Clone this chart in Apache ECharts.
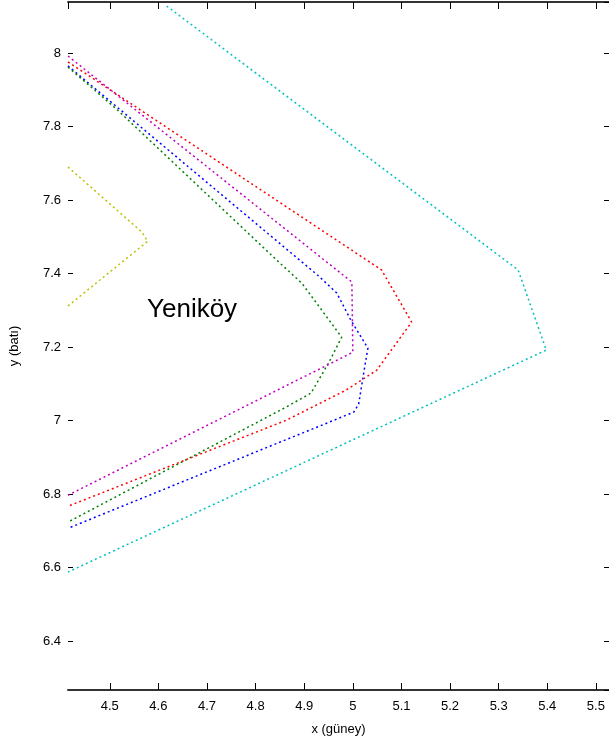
<!DOCTYPE html>
<html>
<head>
<meta charset="utf-8">
<script src="https://cdn.jsdelivr.net/npm/echarts@6/dist/echarts.min.js"></script>
<style>
html,body{margin:0;padding:0;background:#fff;}
#chart{width:609px;height:744px;}
</style>
</head>
<body>
<div id="chart"></div>
<script>
// Data: [x (güney), y (batı)]
const blueLine    = [[4.414,7.965],[4.930,7.393],[4.967,7.347],[4.996,7.273],[5.031,7.197],[5.025,7.151],[5.012,7.045],[5.002,7.023],[4.414,6.707]];
const greenLine   = [[4.414,7.962],[4.516,7.845],[4.848,7.431],[4.895,7.374],[4.977,7.227],[4.951,7.159],[4.914,7.075],[4.863,7.037],[4.414,6.724]];
const redLine     = [[4.414,7.976],[5.059,7.410],[5.121,7.268],[5.049,7.137],[4.986,7.083],[4.863,7.001],[4.414,6.767]];
const cyanLine    = [[4.617,8.128],[5.340,7.410],[5.398,7.192],[4.414,6.588]];
const magentaLine = [[4.414,7.992],[4.998,7.377],[5.000,7.186],[4.414,6.797]];
const yellowLine  = [[4.414,7.690],[4.566,7.513],[4.578,7.488],[4.414,7.312]];
const seriesColors = ['#0000ff','#008000','#ff0000','#00bfbf','#bf00bf','#bfbf00'];
const xRange = [4.414, 5.527];
const yRange = [6.267, 8.139];
const xName = 'x (güney)';
const yName = 'y (batı)';
const labelText = 'Yeniköy';

const chart = echarts.init(document.getElementById('chart'));
const font = 'Liberation Sans, Arial, sans-serif';
const lines = [blueLine, greenLine, redLine, cyanLine, magentaLine, yellowLine];

const baseX = {
  type: 'value', min: xRange[0], max: xRange[1], splitNumber: 11,
  splitLine: {show: false},
  axisTick: {show: true, inside: true, length: 7, lineStyle: {color: '#000', width: 1}},
  axisLine: {show: true, onZero: false, lineStyle: {color: '#333', width: 2}},
};
const baseY = {
  type: 'value', min: yRange[0], max: yRange[1], splitNumber: 9,
  splitLine: {show: false},
  axisTick: {show: true, inside: true, length: 5, lineStyle: {color: '#000', width: 1}},
  axisLine: {show: false},
};

chart.setOption({
  backgroundColor: '#fff',
  animation: false,
  grid: {left: 68, top: 2, width: 543, height: 688, containLabel: false},
  xAxis: [
    Object.assign({}, baseX, {
      position: 'bottom',
      name: xName, nameLocation: 'middle', nameGap: 33,
      nameTextStyle: {fontFamily: font, fontSize: 13, color: '#000'},
      axisLabel: {show: true, fontFamily: font, fontSize: 13, color: '#000', margin: 10,
        showMinLabel: false, showMaxLabel: false}
    }),
    Object.assign({}, baseX, {position: 'top', axisLabel: {show: false}})
  ],
  yAxis: [
    Object.assign({}, baseY, {
      position: 'left',
      name: yName, nameLocation: 'middle', nameGap: 47,
      nameTextStyle: {fontFamily: font, fontSize: 13, color: '#000'},
      axisLabel: {show: true, fontFamily: font, fontSize: 13, color: '#000', margin: 7,
        showMinLabel: false, showMaxLabel: false}
    }),
    Object.assign({}, baseY, {position: 'right', axisLabel: {show: false}})
  ],
  graphic: [{
    type: 'text', left: 147, top: 297,
    style: {text: labelText, fontFamily: font, fontSize: 26, fill: '#000'}
  }],
  series: lines.map((d, i) => ({
    type: 'line', data: d, symbol: 'none', clip: true,
    xAxisIndex: 0, yAxisIndex: 0,
    lineStyle: {color: seriesColors[i], width: 1.5, type: [2, 3]}
  }))
});
</script>
</body>
</html>
